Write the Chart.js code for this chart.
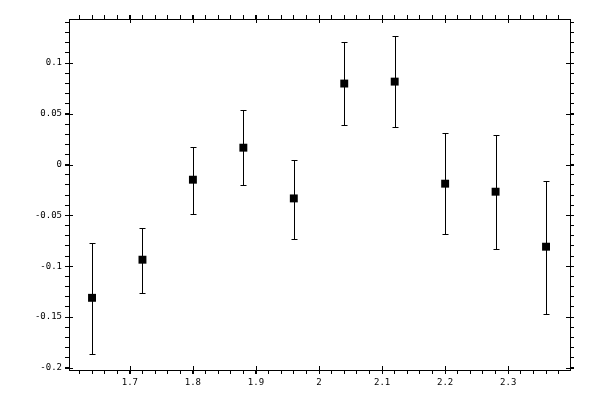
<!DOCTYPE html>
<html>
<head>
<meta charset="utf-8">
<script src="https://cdn.jsdelivr.net/npm/chart.js@4"></script>
<style>
  html, body { margin: 0; padding: 0; background: #fff; }
  #wrap { width: 600px; height: 400px; }
</style>
</head>
<body>
<div id="wrap"><canvas id="chart" width="600" height="400"></canvas></div>
<script>
const xValues = [1.64, 1.72, 1.80, 1.88, 1.96, 2.04, 2.12, 2.20, 2.28, 2.36];
const yValues = [-0.131, -0.0935, -0.0148, 0.0167, -0.0332, 0.0798, 0.0817, -0.0187, -0.0266, -0.0807];
const yLow = [-0.186, -0.126, -0.0483, -0.0197, -0.0729, 0.0394, 0.0374, -0.068, -0.0827, -0.1467];
const yHigh = [-0.0768, -0.062, 0.0177, 0.054, 0.0049, 0.121, 0.127, 0.0311, 0.0295, -0.0158];

const xRange = [1.6035, 2.398];
const yRange = [-0.202, 0.1433];

const points = xValues.map((x, i) => ({ x: x, y: yValues[i] }));

function isMult(v, step) {
  const r = v / step;
  return Math.abs(r - Math.round(r)) < 1e-6;
}

function fmt(v) {
  const n = Number(v.toFixed(3));
  return n === 0 ? "0" : String(n);
}

// error bars, drawn under the square markers
const errorBars = {
  id: "errorBars",
  beforeDatasetsDraw(chart) {
    const ctx = chart.ctx;
    const xs = chart.scales.x;
    const ys = chart.scales.y;
    ctx.save();
    ctx.strokeStyle = "#000";
    ctx.lineWidth = 1;
    xValues.forEach((x, i) => {
      const px = Math.round(xs.getPixelForValue(x)) + 0.5;
      const top = Math.round(ys.getPixelForValue(yHigh[i])) + 0.5;
      const bot = Math.round(ys.getPixelForValue(yLow[i])) + 0.5;
      ctx.beginPath();
      ctx.moveTo(px, top);
      ctx.lineTo(px, bot);
      ctx.moveTo(px - 3, top);
      ctx.lineTo(px + 3, top);
      ctx.moveTo(px - 3, bot);
      ctx.lineTo(px + 3, bot);
      ctx.stroke();
    });
    ctx.restore();
  }
};

// major ticks cross the frame line
const majorTicks = {
  id: "majorTicks",
  afterDraw(chart) {
    const ctx = chart.ctx;
    const a = chart.chartArea;
    ctx.save();
    ctx.strokeStyle = "#000";
    ctx.lineWidth = 1;
    ctx.beginPath();
    chart.scales.x.ticks.forEach(t => {
      if (!isMult(t.value, 0.1)) return;
      const px = Math.round(chart.scales.x.getPixelForValue(t.value)) + 0.5;
      ctx.moveTo(px, a.bottom - 4);
      ctx.lineTo(px, a.bottom + 4);
      ctx.moveTo(px, a.top - 4);
      ctx.lineTo(px, a.top + 4);
    });
    chart.scales.y.ticks.forEach(t => {
      if (!isMult(t.value, 0.05)) return;
      const py = Math.round(chart.scales.y.getPixelForValue(t.value)) + 0.5;
      ctx.moveTo(a.left - 4, py);
      ctx.lineTo(a.left + 4, py);
      ctx.moveTo(a.right - 4, py);
      ctx.lineTo(a.right + 4, py);
    });
    ctx.stroke();
    ctx.restore();
  }
};

const tickFont = { family: "DejaVu Sans Mono", size: 9 };

function axisGrid() {
  return { drawOnChartArea: false, drawTicks: true, tickLength: 4, color: "#000", lineWidth: 1 };
}
function axisBorder() {
  return { display: true, color: "#000", width: 1 };
}

new Chart(document.getElementById("chart"), {
  type: "scatter",
  data: {
    datasets: [{
      data: points,
      pointStyle: "rect",
      pointRadius: 5.6,
      pointHoverRadius: 5.6,
      backgroundColor: "#000",
      borderColor: "#000",
      borderWidth: 0
    }]
  },
  options: {
    responsive: false,
    devicePixelRatio: 1,
    animation: false,
    layout: { padding: 0 },
    plugins: { legend: { display: false }, tooltip: { enabled: false } },
    scales: {
      x: {
        type: "linear", position: "bottom", min: xRange[0], max: xRange[1],
        grid: axisGrid(), border: axisBorder(),
        ticks: {
          stepSize: 0.02, includeBounds: false, autoSkip: false, maxRotation: 0,
          padding: 3, color: "#000", font: tickFont,
          callback: v => isMult(v, 0.1) ? fmt(v) : ""
        },
        afterFit: s => { s.height = 30; }
      },
      x2: {
        type: "linear", position: "top", min: xRange[0], max: xRange[1],
        grid: axisGrid(), border: axisBorder(),
        ticks: { stepSize: 0.02, includeBounds: false, autoSkip: false, callback: () => "" },
        afterFit: s => { s.height = 19; }
      },
      y: {
        type: "linear", position: "left", min: yRange[0], max: yRange[1],
        grid: axisGrid(), border: axisBorder(),
        ticks: {
          stepSize: 0.01, includeBounds: false, autoSkip: false,
          padding: 3, color: "#000", font: tickFont,
          callback: v => isMult(v, 0.05) ? fmt(v) : ""
        },
        afterFit: s => { s.width = 69; }
      },
      y2: {
        type: "linear", position: "right", min: yRange[0], max: yRange[1],
        grid: axisGrid(), border: axisBorder(),
        ticks: { stepSize: 0.01, includeBounds: false, autoSkip: false, callback: () => "" },
        afterFit: s => { s.width = 30; }
      }
    }
  },
  plugins: [errorBars, majorTicks]
});
</script>
</body>
</html>
